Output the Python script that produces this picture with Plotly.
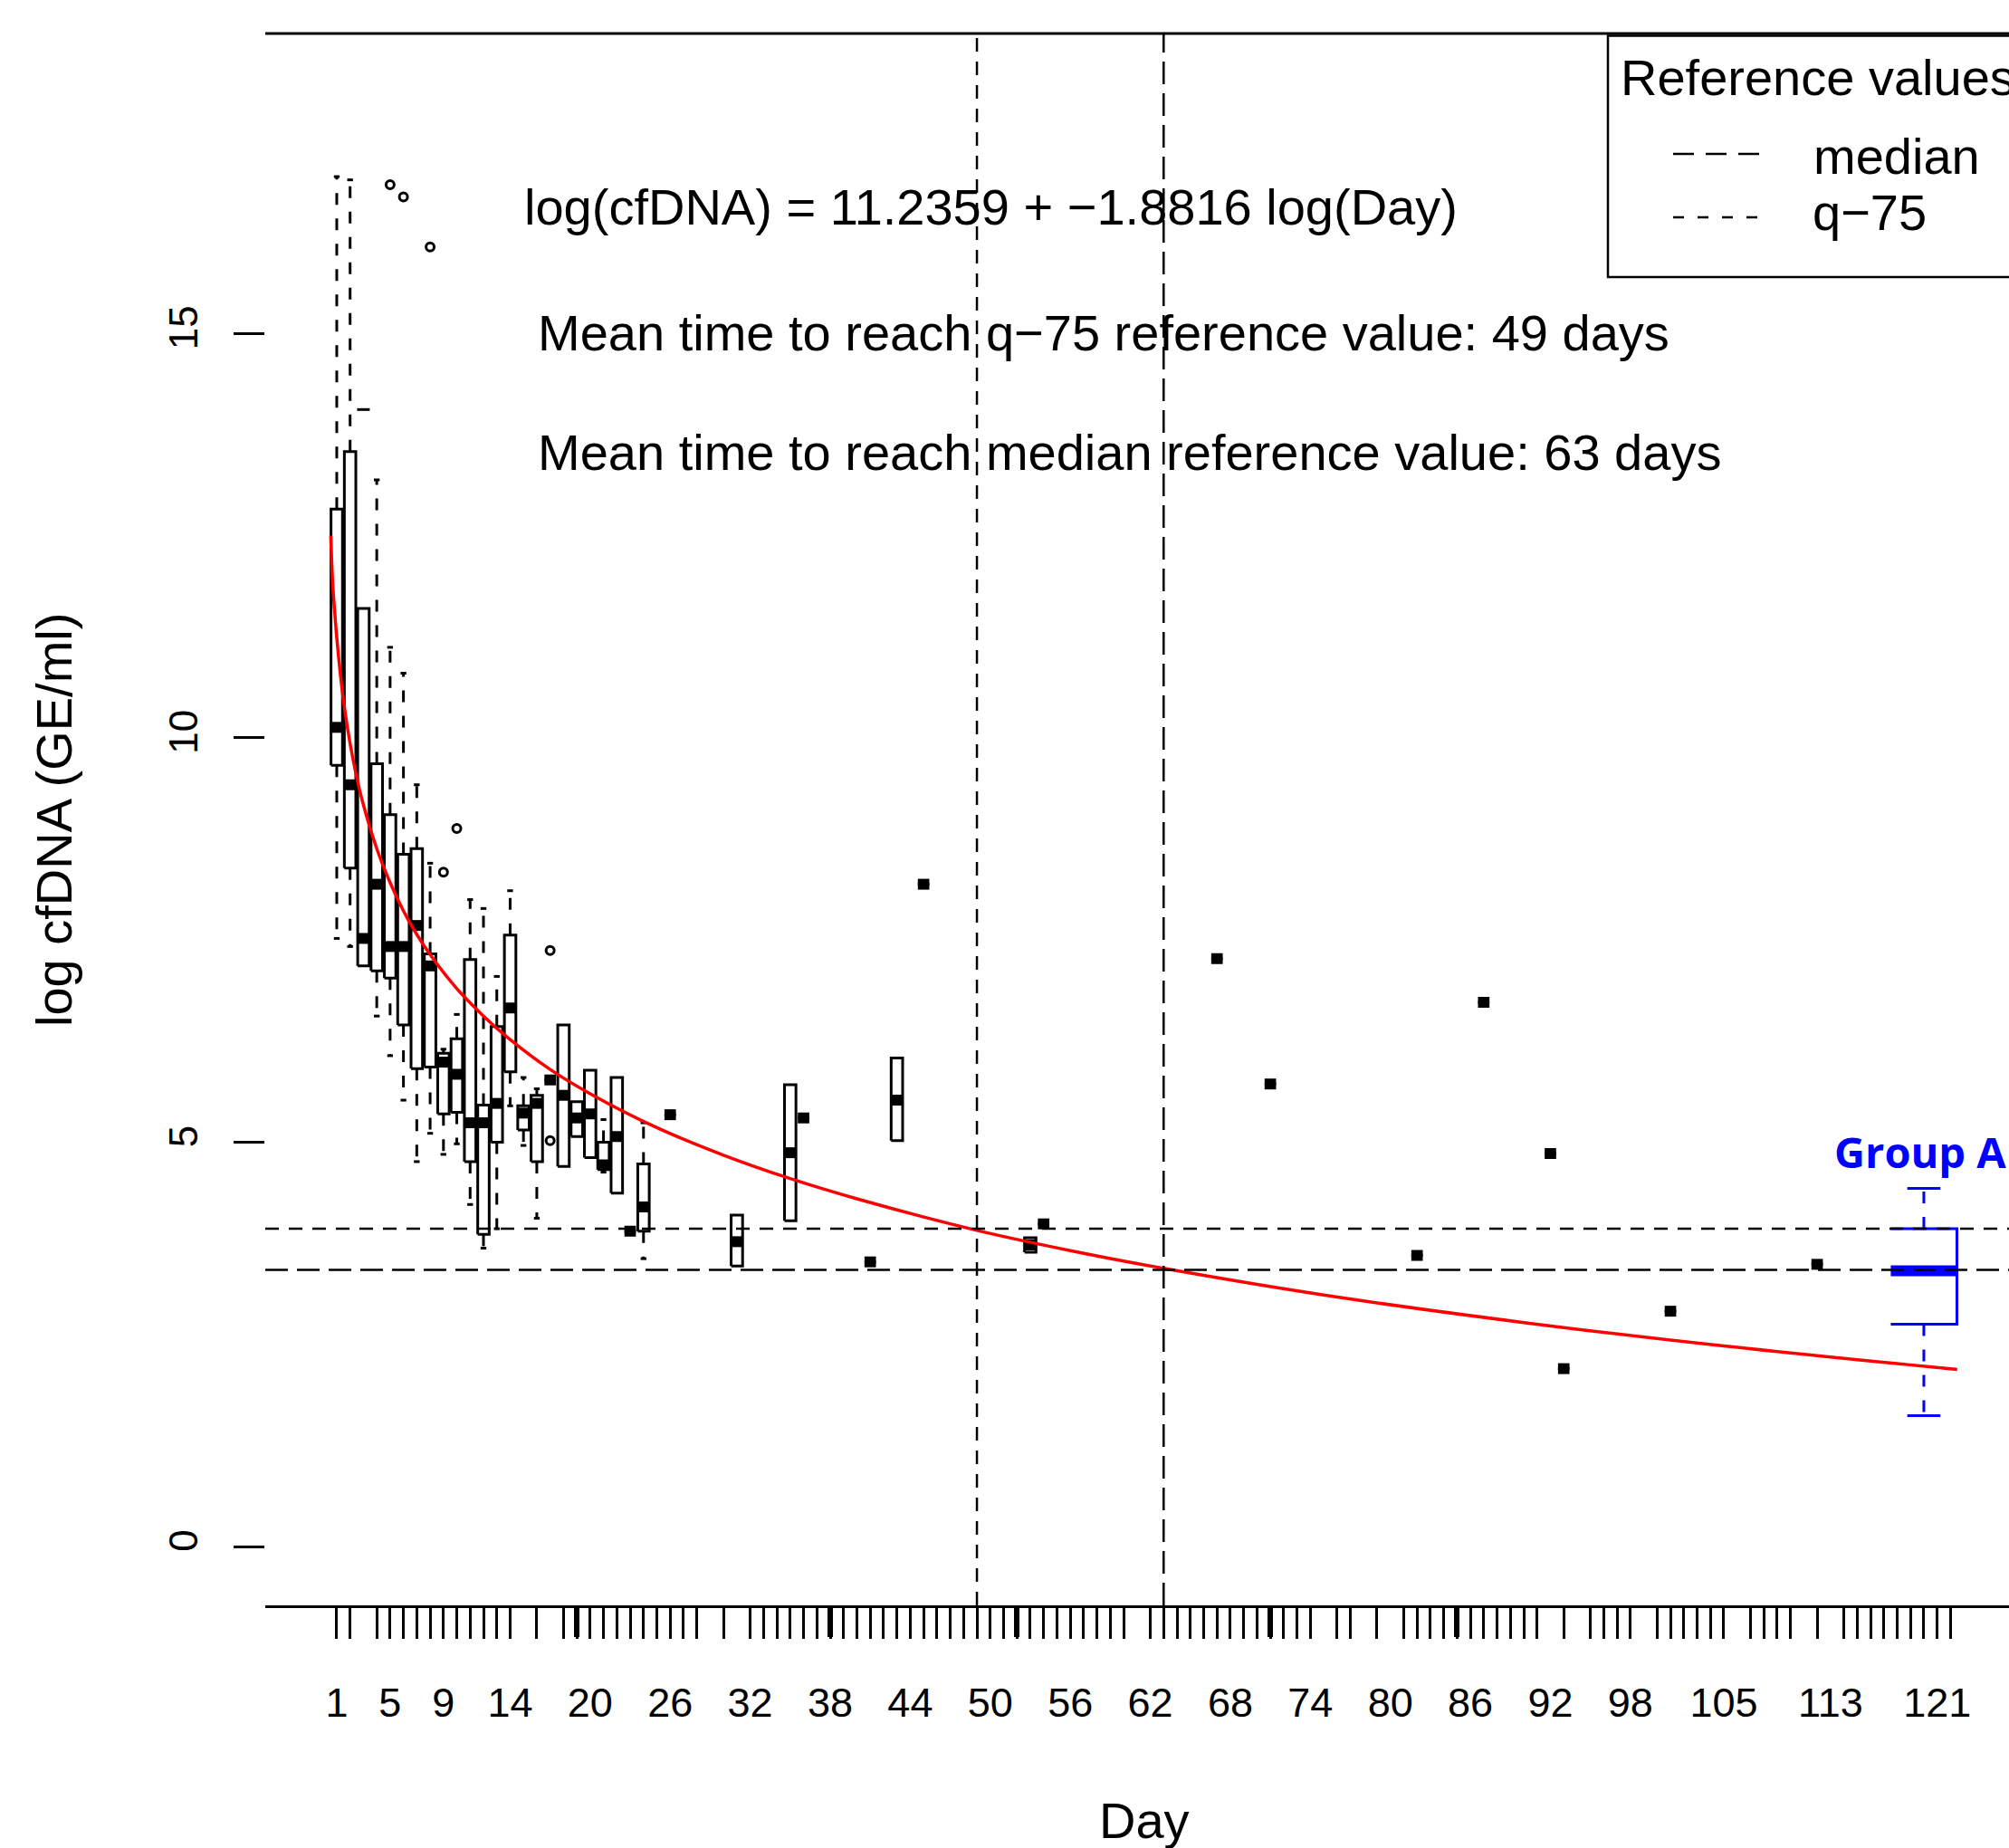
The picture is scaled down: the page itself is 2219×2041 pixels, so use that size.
import plotly.graph_objects as go

# ---------------- data ----------------
tick_days = [1, 2, 4, 5, 6, 7, 8, 9, 10, 11, 12, 13, 14, 16, 18, 19, 20, 21, 22, 23, 24, 25, 26, 27, 28,
             30, 32, 33, 34, 35, 36, 37, 38, 39, 40, 41, 42, 43, 44, 45, 46, 47, 48, 49, 50, 51, 52, 53,
             54, 55, 56, 57, 58, 59, 60, 62, 63, 64, 65, 66, 67, 68, 69, 70, 71, 72, 73, 74, 76, 77, 79,
             81, 82, 83, 84, 85, 86, 87, 88, 89, 90, 91, 93, 95, 96, 97, 98, 100, 101, 102, 103, 104, 105,
             107, 108, 109, 110, 112, 114, 115, 116, 117, 118, 119, 120, 121, 122]
bold_tick_days = [19, 38, 52, 71, 85]
label_days = [1, 5, 9, 14, 20, 26, 32, 38, 44, 50, 56, 62, 68, 74, 80, 86, 92, 98, 105, 113, 121]
label_text = ["1", "5", "9", "14", "20", "26", "32", "38", "44", "50", "56", "62", "68", "74", "80",
              "86", "92", "98", "105", "113", "121"]
y_ticks = [0, 5, 10, 15]

box_day = [1, 2, 3, 4, 5, 6, 7, 8, 9, 10, 11, 12, 13, 14, 15, 16, 17, 18, 19, 20, 21, 22, 23, 24, 26,
           31, 35, 36, 41, 43, 45, 53, 54, 67, 71, 82, 87, 92, 93, 101, 112]
box_low = [7.52, 7.42, 7.18, 6.56, 6.07, 5.52, 4.76, 5.11, 4.85, 4.98, 4.23, 3.69, 3.93, 5.45, 4.96,
           4.06, 5.77, 4.70, 5.07, 4.81, 4.63, 4.37, 3.90, 3.56, 5.34,
           3.47, 4.03, 5.30, 3.52, 5.02, 8.19, 3.64, 3.99, 7.27, 5.72, 3.60, 6.73, 4.86, 2.20, 2.91, 3.49]
box_q1 = [9.66, 8.39, 7.18, 7.12, 7.03, 6.45, 5.91, 5.93, 5.35, 5.37, 4.76, 3.86, 5.00, 5.87, 5.15,
          4.76, 5.77, 4.70, 5.07, 4.81, 4.66, 4.37, 3.90, 3.90, 5.34,
          3.47, 4.03, 5.30, 3.52, 5.02, 8.19, 3.64, 3.99, 7.27, 5.72, 3.60, 6.73, 4.86, 2.20, 2.91, 3.49]
box_med = [10.13, 9.42, 7.52, 8.19, 7.42, 7.42, 7.68, 7.18, 5.99, 5.84, 5.24, 5.24, 5.48, 6.66, 5.36,
           5.48, 5.77, 5.58, 5.30, 5.35, 4.72, 5.07, 3.90, 4.20, 5.34,
           3.77, 4.87, 5.30, 3.52, 5.52, 8.19, 3.73, 3.99, 7.27, 5.72, 3.60, 6.73, 4.86, 2.20, 2.91, 3.49]
box_q3 = [12.83, 13.54, 11.60, 9.68, 9.05, 8.56, 8.63, 7.33, 6.10, 6.28, 7.26, 5.46, 6.43, 7.56, 5.45,
          5.58, 5.77, 6.45, 5.50, 5.89, 5.00, 5.80, 3.90, 4.73, 5.34,
          4.10, 5.71, 5.30, 3.52, 6.04, 8.19, 3.82, 3.99, 7.27, 5.72, 3.60, 6.73, 4.86, 2.20, 2.91, 3.49]
box_high = [16.94, 16.90, 11.60, 13.19, 11.12, 10.80, 9.42, 8.45, 6.15, 6.58, 8.00, 7.89, 7.05, 8.11, 5.80,
            5.66, 5.77, 6.45, 5.50, 5.89, 5.28, 5.80, 3.90, 5.24, 5.34,
            4.10, 5.71, 5.30, 3.52, 6.04, 8.19, 3.82, 3.99, 7.27, 5.72, 3.60, 6.73, 4.86, 2.20, 2.91, 3.49]

outlier_day = [5, 6, 8, 9, 10, 17, 17]
outlier_val = [16.84, 16.69, 16.07, 8.34, 8.88, 7.37, 5.02]
stub_day = [3]
stub_val = [14.06]

groupA_day = 120
groupA_low, groupA_q1, groupA_med, groupA_q3, groupA_high = 1.62, 2.75, 3.41, 3.93, 4.43

fit_day = [0.55, 0.7, 0.85, 1, 1.25, 1.5, 2, 2.5, 3, 4, 5, 6, 7, 8, 10, 12, 14, 17, 20, 25, 30, 35, 40,
           49, 56, 63, 75, 90, 105, 122.5]
fit_val = [12.5, 11.9, 11.55, 11.24, 10.82, 10.47, 9.93, 9.51, 9.17, 8.63, 8.21, 7.86, 7.57, 7.32, 6.90,
           6.56, 6.27, 5.90, 5.60, 5.18, 4.84, 4.55, 4.30, 3.91, 3.66, 3.44, 3.11, 2.77, 2.48, 2.19]

ref_q75 = 3.93
ref_median = 3.42
days_q75 = 49
days_median = 63

# ---------------- layout geometry ----------------
W, H = 2219, 2041
L, R, T, B = 293, 0, 37, 268
PW, PH = W - L - R, H - T - B
X_RANGE = [-4.36, -4.36 + PW / 14.731]
Y_RANGE = [-0.727, 18.71]
FONT = "Liberation Sans, Arial, sans-serif"


def px(xp):
    return (xp - L) / PW


def py(yp):
    return (H - B - yp) / PH


HW = 0.43
GA_HW = 2.48

fig = go.Figure()

# ---------------- boxes ----------------
bx, by, mx, my, wx, wy, cx, cy = [], [], [], [], [], [], [], []
for d, lo, a, m, b, hi in zip(box_day, box_low, box_q1, box_med, box_q3, box_high):
    bx += [d - HW, d + HW, d + HW, d - HW, d - HW, None]
    by += [a, a, b, b, a, None]
    mx += [d - HW, d + HW, None]
    my += [m, m, None]
    if hi > b:
        wx += [d, d, None]
        wy += [b, hi, None]
        cx += [d - HW / 2, d + HW / 2, None]
        cy += [hi, hi, None]
    if lo < a:
        wx += [d, d, None]
        wy += [a, lo, None]
        cx += [d - HW / 2, d + HW / 2, None]
        cy += [lo, lo, None]

common = dict(mode="lines", hoverinfo="skip", showlegend=False)
fig.add_trace(go.Scatter(x=wx, y=wy, line=dict(color="black", width=3, dash="13px,15px"), **common))
fig.add_trace(go.Scatter(x=cx, y=cy, line=dict(color="black", width=3), **common))
fig.add_trace(go.Scatter(x=bx, y=by, line=dict(color="black", width=3), **common))
fig.add_trace(go.Scatter(x=mx, y=my, line=dict(color="black", width=12), **common))

fig.add_trace(go.Scatter(x=outlier_day, y=outlier_val, mode="markers", hoverinfo="skip", showlegend=False,
                         marker=dict(symbol="circle-open", size=9, color="black", line=dict(width=3))))
fig.add_trace(go.Scatter(x=stub_day, y=stub_val, mode="markers", hoverinfo="skip", showlegend=False,
                         marker=dict(symbol="line-ew", size=10, color="black", line=dict(width=3, color="black"))))

# ---------------- Group A box ----------------
d = groupA_day
fig.add_trace(go.Scatter(x=[d, d, None, d, d], y=[groupA_q3, groupA_high, None, groupA_q1, groupA_low],
                         line=dict(color="#0000FF", width=3, dash="13px,15px"), **common))
fig.add_trace(go.Scatter(x=[d - GA_HW / 2, d + GA_HW / 2, None, d - GA_HW / 2, d + GA_HW / 2],
                         y=[groupA_high, groupA_high, None, groupA_low, groupA_low],
                         line=dict(color="#0000FF", width=3), **common))
fig.add_trace(go.Scatter(x=[d - GA_HW, d + GA_HW, d + GA_HW, d - GA_HW],
                         y=[groupA_q3, groupA_q3, groupA_q1, groupA_q1],
                         line=dict(color="#0000FF", width=3), **common))
fig.add_trace(go.Scatter(x=[d - GA_HW, d + GA_HW], y=[groupA_med, groupA_med],
                         line=dict(color="#0000FF", width=12), **common))

# ---------------- fitted curve ----------------
fig.add_trace(go.Scatter(x=fit_day, y=fit_val, mode="lines", line=dict(color="#FF0000", width=3.5, shape="spline"),
                         hoverinfo="skip", showlegend=False))

# dummy traces so overlay axes render
fig.add_trace(go.Scatter(x=[None], y=[None], xaxis="x2", yaxis="y", showlegend=False, hoverinfo="skip"))
fig.add_trace(go.Scatter(x=[None], y=[None], xaxis="x3", yaxis="y", showlegend=False, hoverinfo="skip"))

# ---------------- reference lines ----------------
SHORT = "15px,11px"
LONG = "25px,10px"
shapes = [
    dict(type="line", xref="paper", yref="y", x0=0, x1=1, y0=ref_q75, y1=ref_q75,
         line=dict(color="black", width=2.5, dash=SHORT)),
    dict(type="line", xref="paper", yref="y", x0=0, x1=1, y0=ref_median, y1=ref_median,
         line=dict(color="black", width=2.5, dash=LONG)),
    dict(type="line", xref="x", yref="paper", x0=days_q75, x1=days_q75, y0=0, y1=1,
         line=dict(color="black", width=2.5, dash=SHORT)),
    dict(type="line", xref="x", yref="paper", x0=days_median, x1=days_median, y0=0, y1=1,
         line=dict(color="black", width=2.5, dash=LONG)),
    # top frame line
    dict(type="line", xref="paper", yref="paper", x0=0, x1=1, y0=1, y1=1,
         line=dict(color="black", width=3)),
    # legend box
    dict(type="rect", xref="paper", yref="paper", x0=px(1776), x1=px(2260), y0=py(306), y1=py(39.5),
         line=dict(color="black", width=2.5), fillcolor="white", layer="above"),
    dict(type="line", xref="paper", yref="paper", x0=px(1848), x1=px(1945), y0=py(170), y1=py(170),
         line=dict(color="black", width=2.5, dash="23px,13px"), layer="above"),
    dict(type="line", xref="paper", yref="paper", x0=px(1848), x1=px(1945), y0=py(240), y1=py(240),
         line=dict(color="black", width=2.5, dash="12px,15px"), layer="above"),
]

ann = []


def text(s, x, y, size=56, xanchor="left", color="black", angle=0, bold=False, family=FONT):
    ann.append(dict(text=("<b>%s</b>" % s) if bold else s, x=px(x), y=py(y), xref="paper", yref="paper",
                    xanchor=xanchor, yanchor="middle", showarrow=False, textangle=angle,
                    font=dict(size=size, color=color, family=family)))


text("log(cfDNA) = 11.2359 + \u22121.8816 log(Day)", 577, 229)
text("Mean time to reach q\u221275 reference value: 49 days", 592, 367)
text("Mean time to reach median reference value: 63 days", 592, 500)
text("Reference values", 1788, 86)
text("median", 2001, 172)
text("q\u221275", 2000, 234)
text("Group A", 2024, 1272, size=47, color="#0000FF", bold=True, family="Open Sans, Noto Sans, sans-serif")
text("log cfDNA (GE/ml)", 59, 906, xanchor="center", angle=-90)
text("Day", 1264, 2010, xanchor="center")

axis_common = dict(range=X_RANGE, showgrid=False, zeroline=False, automargin=False)
fig.update_layout(
    width=W, height=H,
    margin=dict(l=L, r=R, t=T, b=B, pad=0),
    paper_bgcolor="white", plot_bgcolor="white",
    font=dict(family=FONT, color="black"),
    showlegend=False,
    shapes=shapes, annotations=ann,
    xaxis=dict(**axis_common, showline=True, linecolor="black", linewidth=3,
               tickmode="array", tickvals=tick_days, showticklabels=False,
               ticks="outside", ticklen=34, tickwidth=3, tickcolor="black"),
    xaxis2=dict(**axis_common, overlaying="x", anchor="y", side="bottom", showline=False,
                tickmode="array", tickvals=bold_tick_days, showticklabels=False,
                ticks="outside", ticklen=34, tickwidth=6, tickcolor="black"),
    xaxis3=dict(**axis_common, overlaying="x", anchor="y", side="bottom", showline=False,
                tickmode="array", tickvals=label_days, ticktext=label_text,
                ticks="outside", ticklen=34, tickwidth=1, tickcolor="rgba(0,0,0,0)",
                tickfont=dict(size=45, family=FONT, color="black"), ticklabelstandoff=34),
    yaxis=dict(range=Y_RANGE, showgrid=False, zeroline=False, showline=False, automargin=False,
               tickmode="array", tickvals=y_ticks, ticks="outside", ticklen=34, tickwidth=3,
               tickcolor="black", tickangle=-90, tickfont=dict(size=44, family=FONT, color="black"),
               ticklabelstandoff=22),
)

fig.write_html("out.html", config={"displayModeBar": False},
               post_script="document.body.style.margin='0';document.body.style.overflow='hidden';")
